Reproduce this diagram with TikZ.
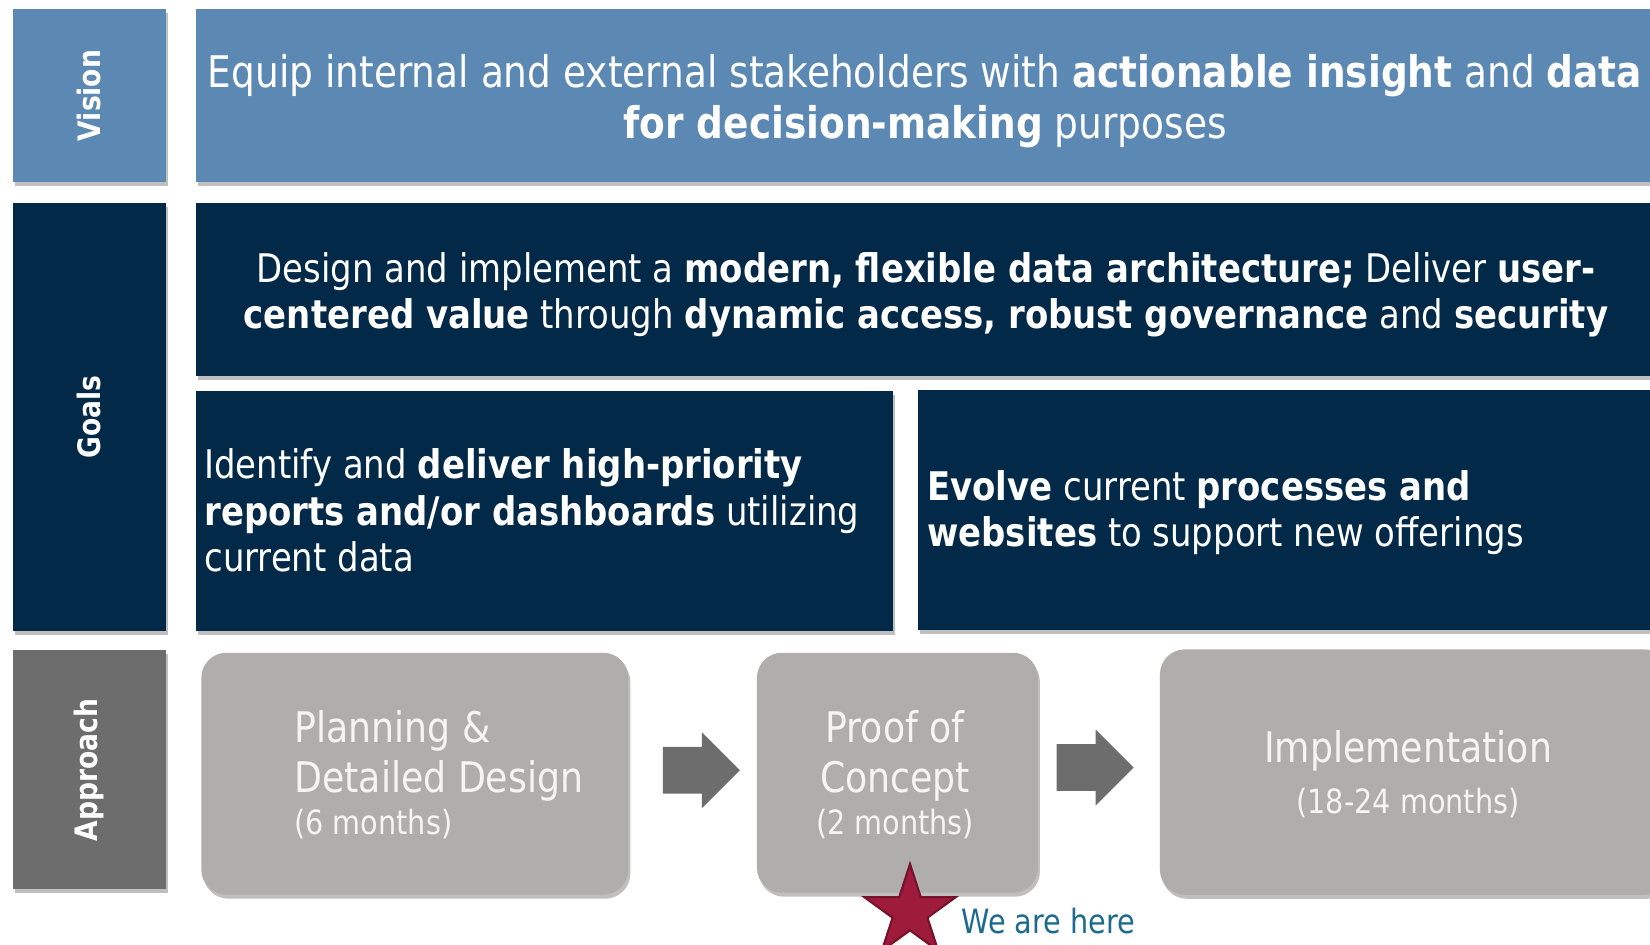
\documentclass[tikz,border=0pt]{standalone}
\usepackage{fontspec}
\setmainfont{DejaVu Sans}[FakeStretch=0.86]
\usepackage{tikz}
\usetikzlibrary{shapes,shapes.geometric,shapes.arrows,shadows,calc,positioning}
\definecolor{visionblue}{RGB}{92,136,180}
\definecolor{goalnavy}{RGB}{3,41,72}
\definecolor{tabgray}{RGB}{109,109,109}
\definecolor{phasegray}{RGB}{175,174,173}
\definecolor{phasetext}{RGB}{245,245,245}
\definecolor{starred}{RGB}{158,27,60}
\definecolor{starrim}{RGB}{118,18,42}
\definecolor{heretext}{RGB}{28,107,142}
\tikzset{
    x=0.02cm,y=-0.02cm,
    shade box/.style={drop shadow={shadow xshift=0.04cm,shadow yshift=-0.08cm,opacity=0.25,fill=black}},
    tab/.style ={rectangle, anchor=north west, inner sep=0pt, minimum width=3.052cm, shade box},
    panel/.style ={rectangle, anchor=north west, inner sep=0pt, shade box},
    phase/.style ={rectangle, anchor=north west, inner sep=0pt, rounded corners=0.5cm, fill=phasegray, shade box},
    tablabel/.style = {rotate=90, inner sep=0pt, text=white, font=\fontsize{17.6}{20}\selectfont\bfseries},
    body/.style = {inner sep=0pt, text=white, font=\fontsize{22.45}{26.2}\selectfont},
    phaselabel/.style = {inner sep=0pt, text=phasetext, align=center, font=\fontsize{24}{28.5}\selectfont},
    months/.style = {inner sep=0pt, text=phasetext, font=\fontsize{19}{22}\selectfont},
    blockarrow/.style = {single arrow, fill=tabgray, inner xsep=0pt, inner ysep=0.46cm, minimum height=1.54cm, single arrow head extend=0.29cm},
    herestar/.style = {star, star points=5, star point ratio=2.618, minimum size=1.92cm, inner sep=0pt, fill=starred, draw=starrim, line width=1.2pt}
}

\begin{document}
\begin{tikzpicture}
        \path[use as bounding box, fill=white] (0,0) rectangle (1650,944);
        % Row tabs on the left
        \node[tab, fill=visionblue, minimum height=3.472cm] (vision) at (12.6,8.4) {};
        \node[tab, fill=goalnavy, minimum height=8.56cm] (goals) at (12.6,203) {};
        \node[tab, fill=tabgray, minimum height=4.78cm] (approach) at (12.6,650) {};
        \node[tablabel] (visionlabel) at (vision.center) {Vision};
        \node[tablabel] (goalslabel) at (goals.center) {Goals};
        \node[tablabel] (approachlabel) at (approach.center) {Approach};
        % Vision and goal panels
        \node[panel, fill=visionblue, minimum width=29.3cm, minimum height=3.472cm] (visionpanel) at (195.7,8.4) {};
        \node[panel, fill=goalnavy, minimum width=29.3cm, minimum height=3.454cm] (archpanel) at (195.7,203) {};
        \node[panel, fill=goalnavy, minimum width=13.932cm, minimum height=4.812cm] (reportpanel) at (195.7,390.4) {};
        \node[panel, fill=goalnavy, minimum width=14.9cm, minimum height=4.812cm] (evolvepanel) at (917.6,389.4) {};
        \node[body, font=\fontsize{24.8}{29}\selectfont, align=center] (visiontext) at (925,101)
            {Equip internal and external stakeholders with \textbf{actionable insight} and \textbf{data}\\\textbf{for decision-making} purposes};
        \node[body, align=center] (archtext) at (926,295)
            {Design and implement a \textbf{modern, flexible data architecture;} Deliver \textbf{user-}\\\textbf{centered value} through \textbf{dynamic access, robust governance} and \textbf{security}};
        \node[body, align=left, anchor=west] (reporttext) at (204,510.3)
            {Identify and \textbf{deliver high-priority}\\\textbf{reports and/or dashboards} utilizing\\current data};
        \node[body, align=left, anchor=west] (evolvetext) at (927,513)
            {\textbf{Evolve} current \textbf{processes and}\\\textbf{websites} to support new offerings};
        % Approach phases
        \node[phase, minimum width=8.54cm, minimum height=4.84cm] (plan) at (201,652.4) {};
        \node[phase, minimum width=5.62cm, minimum height=4.8cm] (proof) at (756.6,652.4) {};
        \node[phase, minimum width=10.2cm, minimum height=4.91cm] (impl) at (1159.6,649) {};
        \node[phaselabel, align=left, anchor=west] (plantext) at (294,756) {Planning \&\\Detailed Design};
        \node[months, anchor=base west] (planmonths) at (294,834) {(6 months)};
        \node[phaselabel] (prooftext) at (895,755.5) {Proof of\\Concept};
        \node[months, anchor=base] (proofmonths) at (895,834) {(2 months)};
        \node[phaselabel, anchor=base] (impltext) at (1408,762) {Implementation};
        \node[months, anchor=base] (implmonths) at (1408,813) {(18-24 months)};
        \node[blockarrow, yshift=0.06cm] (step1) at ($(plan.east)!0.477!(proof.west)$) {};
        \node[blockarrow, yshift=0.1cm] (step2) at ($(proof.east)!0.372!(impl.west)$) {};
        % Current position marker
        \node[herestar] (star) at (910,912) {};
        \node[inner sep=0pt, anchor=base west, text=heretext, font=\fontsize{19}{22}\selectfont] (here) at (961,933) {We are here};
\end{tikzpicture}
\end{document}
